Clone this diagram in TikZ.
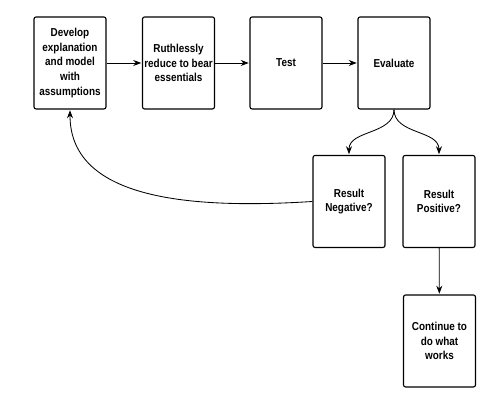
\documentclass[tikz,border=0pt]{standalone}
\usepackage{fontspec}
\setmainfont[FakeStretch=0.86]{Liberation Sans}
\usetikzlibrary{arrows.meta}

\begin{document}
\begin{tikzpicture}[>=Stealth,
  stepbox/.style={draw,thick,rounded corners=1.5pt,minimum width=1.8cm,minimum height=2.3cm,
    align=center,inner sep=1pt,font=\fontsize{8.2}{10.4}\selectfont\bfseries},
  link/.style={->,semithick,shorten >=0.5pt}]
  \useasboundingbox (0,0) rectangle (12.375,10);
  \node[stepbox] (develop) at (1.75,8.425) {Develop\\explanation\\and model\\with\\assumptions};
  \node[stepbox] (reduce) at (4.4625,8.425) {Ruthlessly\\reduce to bear\\essentials};
  \node[stepbox] (test) at (7.15,8.425) {Test};
  \node[stepbox] (evaluate) at (9.85,8.425) {Evaluate};
  \node[stepbox] (negative) at (8.725,4.9625) {Result\\Negative?};
  \node[stepbox] (positive) at (10.975,4.9625) {Result\\Positive?};
  \node[stepbox] (continue) at (10.9875,1.475) {Continue to\\do what\\works};
  % main chain
  \draw[link] (develop) -- (reduce);
  \draw[link] (reduce) -- (test);
  \draw[link] (test) -- (evaluate);
  % split after evaluation
  \draw[link] (evaluate.south) to[out=-90,in=90] (negative.north);
  \draw[link] (evaluate.south) to[out=-90,in=90] (positive.north);
  \draw[link] (positive) -- (continue);
  % back to the start
  \draw[link] (negative.west) .. controls (4.5,4.75) and (1.75,5.1) .. (develop.south);
\end{tikzpicture}
\end{document}
